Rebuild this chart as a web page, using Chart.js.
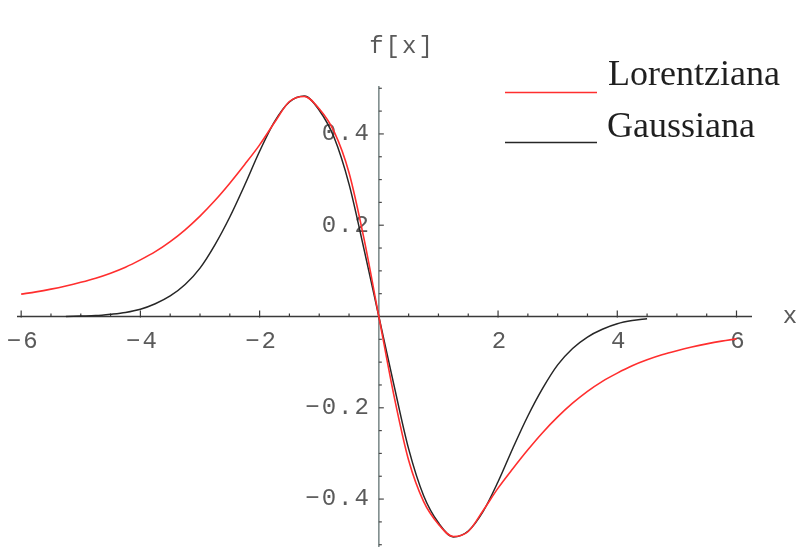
<!DOCTYPE html>
<html>
<head>
<meta charset="utf-8">
<script src="https://cdn.jsdelivr.net/npm/chart.js@4/dist/chart.umd.min.js"></script>
<style>
  html, body { margin: 0; padding: 0; background: #ffffff; }
  #wrap { width: 801px; height: 556px; position: relative; }
</style>
</head>
<body>
<div id="wrap"><canvas id="plot"></canvas></div>
<script>
// Sample abscissae
const xValues = [
  -6, -5.75, -5.5, -5.25, -5, -4.75, -4.5, -4.25, -4, -3.75, -3.5, -3.25, -3,
  -2.75, -2.5, -2.25, -2, -1.75, -1.5, -1.25, -1, -0.75, -0.5, -0.25, 0,
  0.25, 0.5, 0.75, 1, 1.25, 1.5, 1.75, 2, 2.25, 2.5, 2.75, 3,
  3.25, 3.5, 3.75, 4, 4.25, 4.5, 4.75, 5, 5.25, 5.5, 5.75, 6
];

// Derivative of the Lorentzian line shape
const lorentziana = [
  0.049, 0.054, 0.060, 0.067, 0.075, 0.084, 0.095, 0.108, 0.124, 0.142, 0.164, 0.190, 0.220,
  0.254, 0.292, 0.333, 0.376, 0.425, 0.471, 0.482, 0.455, 0.405, 0.315, 0.171, 0,
  -0.171, -0.315, -0.405, -0.455, -0.482, -0.471, -0.425, -0.376, -0.333, -0.292, -0.254, -0.220,
  -0.190, -0.164, -0.142, -0.124, -0.108, -0.095, -0.084, -0.075, -0.067, -0.060, -0.054, -0.049
];

// Derivative of the Gaussian line shape (null = not plotted)
const gaussiana = [
  null, null, null, 0, 0.001, 0.002, 0.005, 0.009, 0.016, 0.028, 0.045, 0.070, 0.106,
  0.157, 0.218, 0.288, 0.362, 0.427, 0.470, 0.483, 0.452, 0.392, 0.290, 0.148, 0,
  -0.148, -0.290, -0.392, -0.452, -0.483, -0.470, -0.427, -0.362, -0.288, -0.218, -0.157, -0.106,
  -0.070, -0.045, -0.028, -0.016, -0.009, -0.005, null, null, null, null, null, null
];

const seriesNames = ['Lorentziana', 'Gaussiana'];
const seriesColors = ['#ff2e2e', '#262626'];

const xTickValues = [-6, -4, -2, 2, 4, 6];
const xTickLabels = ['\u22126', '\u22124', '\u22122', '2', '4', '6'];
const yTickValues = [0.4, 0.2, -0.2, -0.4];
const yTickLabels = ['0.4', '0.2', '\u22120.2', '\u22120.4'];
const xAxisTitle = 'x';
const yAxisTitle = 'f[x]';

function toPoints(values) {
  const pts = [];
  values.forEach((v, i) => { if (v !== null) pts.push({ x: xValues[i], y: v }); });
  return pts;
}

const monoFont = '"Liberation Mono", "DejaVu Sans Mono", monospace';
const serifFont = '"Liberation Serif", "DejaVu Serif", serif';

// Axes crossing at the origin, with inward ticks and labels
const originAxes = {
  id: 'originAxes',
  beforeDatasetsDraw(chart) {
    const { ctx, chartArea, scales } = chart;
    const xs = scales.x, ys = scales.y;
    const x0 = xs.getPixelForValue(0);
    const y0 = ys.getPixelForValue(0);
    ctx.save();

    // horizontal axis
    ctx.strokeStyle = '#3a3a3a';
    ctx.lineWidth = 1.6;
    ctx.beginPath();
    ctx.moveTo(chartArea.left, y0);
    ctx.lineTo(chartArea.right, y0);
    ctx.stroke();
    ctx.lineWidth = 1.2;
    for (let k = -12; k <= 12; k++) {
      if (k === 0) continue;
      const v = k * 0.5;
      const px = xs.getPixelForValue(v);
      const len = (k % 4 === 0) ? 6 : 3;
      ctx.beginPath();
      ctx.moveTo(px, y0 + (k % 4 === 0 ? 1 : 0));
      ctx.lineTo(px, y0 - len);
      ctx.stroke();
    }

    // vertical axis
    ctx.strokeStyle = '#7f8c8c';
    ctx.lineWidth = 1.6;
    ctx.beginPath();
    ctx.moveTo(x0, chartArea.top);
    ctx.lineTo(x0, chartArea.bottom);
    ctx.stroke();
    ctx.strokeStyle = '#4a4a4a';
    ctx.lineWidth = 1.2;
    for (let k = -10; k <= 10; k++) {
      if (k === 0) continue;
      const v = k * 0.05;
      const py = ys.getPixelForValue(v);
      const len = (k % 4 === 0) ? 5 : 3;
      ctx.beginPath();
      ctx.moveTo(x0, py);
      ctx.lineTo(x0 + len, py);
      ctx.stroke();
    }

    // tick labels
    ctx.fillStyle = '#5a5a5a';
    ctx.font = '24px ' + monoFont;
    if ('letterSpacing' in ctx) ctx.letterSpacing = '2px';
    ctx.textBaseline = 'middle';
    ctx.textAlign = 'center';
    xTickValues.forEach((v, i) => {
      ctx.fillText(xTickLabels[i], xs.getPixelForValue(v) + 2, y0 + 25);
    });
    ctx.textAlign = 'right';
    yTickValues.forEach((v, i) => {
      ctx.fillText(yTickLabels[i], x0 - 8, ys.getPixelForValue(v));
    });

    // axis titles
    ctx.textAlign = 'center';
    ctx.fillText(yAxisTitle, 402, 47);
    ctx.fillText(xAxisTitle, 791, y0);
    ctx.restore();
  },
  afterDraw(chart) {
    const { ctx } = chart;
    ctx.save();
    const rows = [
      { lineY: 92.5, textY: 85, textX: 608 },
      { lineY: 142.5, textY: 137, textX: 607 }
    ];
    rows.forEach((r, i) => {
      ctx.strokeStyle = seriesColors[i];
      ctx.lineWidth = 1.6;
      ctx.beginPath();
      ctx.moveTo(505, r.lineY);
      ctx.lineTo(597, r.lineY);
      ctx.stroke();
      ctx.fillStyle = '#1f1f1f';
      ctx.font = '36px ' + serifFont;
      ctx.textAlign = 'left';
      ctx.textBaseline = 'alphabetic';
      ctx.fillText(seriesNames[i], r.textX, r.textY);
    });
    ctx.restore();
  }
};

function build() {
  new Chart(document.getElementById('plot'), {
    type: 'line',
    data: {
      datasets: [
        {
          label: seriesNames[0],
          data: toPoints(lorentziana),
          borderColor: seriesColors[0],
          borderWidth: 1.6,
          pointRadius: 0,
          cubicInterpolationMode: 'monotone',
          fill: false
        },
        {
          label: seriesNames[1],
          data: toPoints(gaussiana),
          borderColor: seriesColors[1],
          borderWidth: 1.5,
          pointRadius: 0,
          cubicInterpolationMode: 'monotone',
          fill: false
        }
      ]
    },
    options: {
      animation: false,
      responsive: true,
      maintainAspectRatio: false,
      layout: { padding: { left: 17, right: 49, top: 86, bottom: 9 } },
      scales: {
        x: { type: 'linear', min: -6.07, max: 6.26, display: false },
        y: { type: 'linear', min: -0.505, max: 0.505, display: false }
      },
      plugins: { legend: { display: false }, tooltip: { enabled: false } }
    },
    plugins: [originAxes]
  });
}

if (document.fonts && document.fonts.load) {
  Promise.all([
    document.fonts.load('24px "Liberation Mono"'),
    document.fonts.load('36px "Liberation Serif"')
  ]).then(build, build);
} else {
  build();
}
</script>
</body>
</html>
